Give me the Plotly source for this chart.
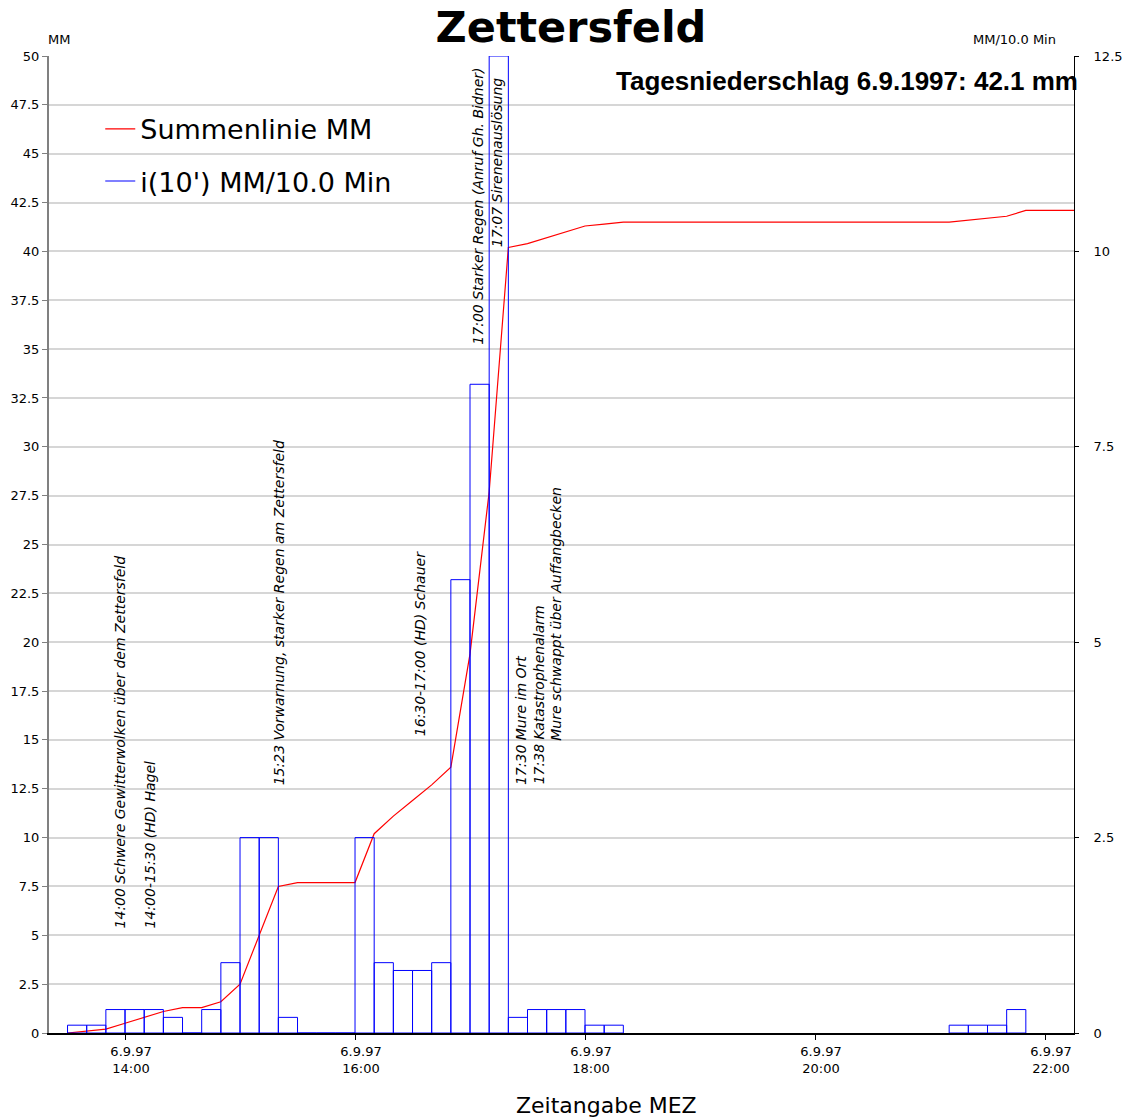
import plotly.graph_objects as go

DAY = "1997-09-06 "

# 10-minute precipitation intensity (MM/10.0 Min), interval start times
bar_times = ["13:30", "13:40", "13:50", "14:00", "14:10", "14:20", "14:30", "14:40",
             "14:50", "15:00", "15:10", "15:20", "15:30", "15:40", "15:50", "16:00",
             "16:10", "16:20", "16:30", "16:40", "16:50", "17:00", "17:10", "17:20",
             "17:30", "17:40", "17:50", "18:00", "18:10",
             "21:10", "21:20", "21:30", "21:40"]
bar_vals = [0.1, 0.1, 0.3, 0.3, 0.3, 0.2, 0.0, 0.3,
            0.9, 2.5, 2.5, 0.2, 0.0, 0.0, 0.0, 2.5,
            0.9, 0.8, 0.8, 0.9, 5.8, 8.3, 12.5, 0.2,
            0.3, 0.3, 0.3, 0.1, 0.1,
            0.1, 0.1, 0.1, 0.3]

# cumulative precipitation (Summenlinie MM)
sum_times = ["13:30", "13:40", "13:50", "14:00", "14:10", "14:20", "14:30", "14:40",
             "14:50", "15:00", "15:10", "15:20", "15:30", "15:40", "15:50", "16:00",
             "16:10", "16:20", "16:30", "16:40", "16:50", "17:00", "17:10", "17:20",
             "17:30", "17:40", "17:50", "18:00", "18:10", "18:20", "21:10", "21:20",
             "21:30", "21:40", "21:50", "22:20"]
sum_vals = [0.0, 0.1, 0.2, 0.5, 0.8, 1.1, 1.3, 1.3,
            1.6, 2.5, 5.0, 7.5, 7.7, 7.7, 7.7, 7.7,
            10.2, 11.1, 11.9, 12.7, 13.6, 19.4, 27.7, 40.2,
            40.4, 40.7, 41.0, 41.3, 41.4, 41.5, 41.5, 41.6,
            41.7, 41.8, 42.1, 42.1]

left_ticks = [0, 2.5, 5, 7.5, 10, 12.5, 15, 17.5, 20, 22.5, 25, 27.5, 30, 32.5,
              35, 37.5, 40, 42.5, 45, 47.5, 50]
left_labels = ["0", "2.5", "5", "7.5", "10", "12.5", "15", "17.5", "20", "22.5", "25",
               "27.5", "30", "32.5", "35", "37.5", "40", "42.5", "45", "47.5", "50"]
right_ticks = [0, 2.5, 5, 7.5, 10, 12.5]
right_labels = ["0", "2.5", "5", "7.5", "10", "12.5"]
x_ticks = ["14:00", "16:00", "18:00", "20:00", "22:00"]
x_labels = ["6.9.97<br>14:00", "6.9.97<br>16:00", "6.9.97<br>18:00",
            "6.9.97<br>20:00", "6.9.97<br>22:00"]

# event notes: (time, bottom value on MM axis, text)
notes = [
    ("13:57:20", 5.27, "14:00 Schwere Gewitterwolken über dem Zettersfeld"),
    ("14:13:00", 5.27, "14:00-15:30 (HD) Hagel"),
    ("15:20:20", 12.6, "15:23 Vorwarnung, starker Regen am Zettersfeld"),
    ("16:34:20", 15.1, "16:30-17:00 (HD) Schauer"),
    ("17:04:10", 35.1, "17:00 Starker Regen (Anruf Gh. Bidner)"),
    ("17:14:30", 40.1, "17:07 Sirenenauslösung"),
    ("17:27:00", 12.6, "17:30 Mure im Ort"),
    ("17:36:00", 12.6, "17:38 Katastrophenalarm"),
    ("17:44:50", 14.85, "Mure schwappt über Auffangbecken"),
]

FONT = "DejaVu Sans"

fig = go.Figure()

fig.add_trace(go.Bar(
    x=[DAY + t for t in bar_times], y=bar_vals, yaxis="y2",
    width=600000, offset=0,
    marker=dict(color="rgba(255,255,255,0)", line=dict(color="#0000ff", width=1)),
    name="i(10') MM/10.0 Min", showlegend=False, hoverinfo="x+y",
))

fig.add_trace(go.Scatter(
    x=[DAY + t for t in sum_times], y=sum_vals, mode="lines",
    line=dict(color="#ff0000", width=1.2),
    name="Summenlinie MM", legendgroup="a",
))

# legend entry for the intensity bars (line symbol as in the original)
fig.add_trace(go.Scatter(
    x=[None], y=[None], mode="lines", line=dict(color="#0000ff", width=1.2),
    name="i(10') MM/10.0 Min", legendgroup="b", yaxis="y2",
))

annotations = []
for t, yv, txt in notes:
    annotations.append(dict(
        x=DAY + t, y=yv, xref="x", yref="y", text="<i>" + txt + "</i>",
        textangle=-90, showarrow=False, xanchor="center", yanchor="bottom",
        font=dict(family=FONT, size=14, color="black"),
    ))

annotations += [
    dict(x=1.006, y=0.9744, xref="paper", yref="paper", xanchor="right", yanchor="middle",
         text="<b>Tagesniederschlag 6.9.1997: 42.1 mm</b>", showarrow=False,
         font=dict(family="Liberation Sans", size=26, color="black")),
    dict(x=-0.003, y=1.0164, xref="paper", yref="paper", xanchor="left", yanchor="middle",
         text="MM", showarrow=False, font=dict(family=FONT, size=13, color="black")),
    dict(x=0.9845, y=1.0164, xref="paper", yref="paper", xanchor="right", yanchor="middle",
         text="MM/10.0 Min", showarrow=False, font=dict(family=FONT, size=13, color="black")),
    dict(x=(606 - 49) / 1025, y=-0.0737, xref="paper", yref="paper", xanchor="center",
         yanchor="middle", text="Zeitangabe MEZ", showarrow=False,
         font=dict(family=FONT, size=22, color="black")),
]

fig.update_layout(
    width=1128, height=1117,
    margin=dict(l=49, r=54, t=56, b=84),
    paper_bgcolor="white", plot_bgcolor="white",
    barmode="overlay",
    title=dict(text="<b>Zettersfeld</b>", x=571 / 1128, xanchor="center",
               y=1 - 27 / 1117, yanchor="middle", yref="container",
               font=dict(family="DejaVu Sans", size=43, color="black")),
    xaxis=dict(
        type="date", automargin=False,
        range=[DAY + "13:20:20", DAY + "22:15:08"],
        tickvals=[DAY + t for t in x_ticks], ticktext=x_labels,
        tickfont=dict(family=FONT, size=13, color="black"),
        ticks="outside", ticklen=5, tickcolor="black", tickwidth=1,
        showline=True, linecolor="black", linewidth=2,
        showgrid=False, zeroline=False, ticklabelshift=6,
    ),
    yaxis=dict(
        range=[0, 50], tickvals=left_ticks, ticktext=left_labels, automargin=False,
        tickfont=dict(family=FONT, size=13, color="black"),
        ticks="outside", ticklen=5, tickcolor="#808080",
        showline=True, linecolor="#808080", linewidth=2,
        showgrid=True, gridcolor="#d6d6d6", gridwidth=1.5, zeroline=False,
    ),
    yaxis2=dict(
        range=[0, 12.5], overlaying="y", side="right", automargin=False,
        tickvals=right_ticks, ticktext=right_labels,
        tickfont=dict(family=FONT, size=13, color="black"),
        ticks="outside", ticklen=4, tickcolor="black",
        showline=True, linecolor="black", linewidth=1,
        showgrid=False, zeroline=False, ticklabelstandoff=12,
    ),
    legend=dict(x=0.05, y=0.95, xanchor="left", yanchor="top",
                bgcolor="rgba(0,0,0,0)", font=dict(family=FONT, size=27, color="black"),
                traceorder="grouped", tracegroupgap=14),
    annotations=annotations,
    showlegend=True,
)

fig.write_html("out.html")
